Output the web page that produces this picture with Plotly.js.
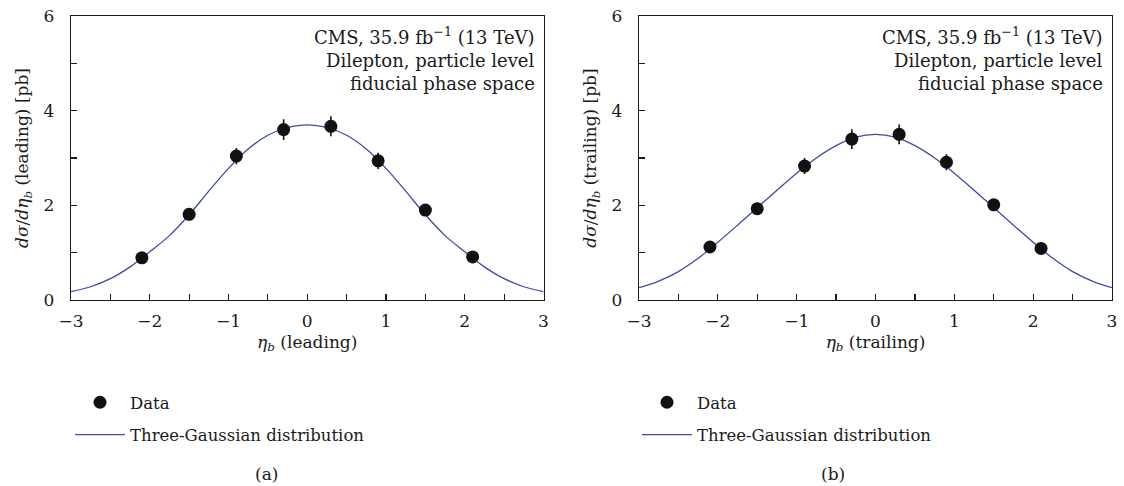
<!DOCTYPE html>
<html>
<head>
<meta charset="utf-8">
<script src="https://cdn.plot.ly/plotly-3.0.1.min.js"></script>
<style>
  html, body { margin: 0; padding: 0; background: #fff; }
  #chart { width: 1124px; height: 486px; }
</style>
</head>
<body>
<div id="chart"></div>
<script>
// b-jet pseudorapidity bins (bin centres)
const etaBins = [-2.1, -1.5, -0.9, -0.3, 0.3, 0.9, 1.5, 2.1];

// Measured differential cross sections [pb] and their uncertainties
const leadingXsec = [0.89, 1.81, 3.04, 3.60, 3.67, 2.94, 1.90, 0.91];
const leadingErr  = [0.07, 0.10, 0.17, 0.22, 0.21, 0.17, 0.10, 0.07];
const trailingXsec = [1.12, 1.93, 2.83, 3.40, 3.50, 2.91, 2.01, 1.09];
const trailingErr  = [0.07, 0.10, 0.17, 0.21, 0.21, 0.17, 0.10, 0.07];

// Three-Gaussian fit curves sampled along eta
const fitEta = [-3, -2.75, -2.5, -2.25, -2, -1.75, -1.5, -1.25, -1, -0.75, -0.5, -0.25, 0,
                0.25, 0.5, 0.75, 1, 1.25, 1.5, 1.75, 2, 2.25, 2.5, 2.75, 3];
const leadingFit = [0.175, 0.28, 0.45, 0.70, 1.02, 1.36, 1.80, 2.30, 2.78, 3.19, 3.48, 3.64, 3.70,
                    3.64, 3.48, 3.19, 2.78, 2.30, 1.80, 1.36, 1.02, 0.70, 0.45, 0.28, 0.175];
const trailingFit = [0.26, 0.40, 0.60, 0.88, 1.22, 1.58, 1.95, 2.32, 2.68, 3.00, 3.26, 3.44, 3.50,
                     3.44, 3.26, 3.00, 2.68, 2.32, 1.95, 1.58, 1.22, 0.88, 0.60, 0.40, 0.26];

const FONT = 'DejaVu Serif, Liberation Serif, serif';
const INK = '#1a1a1a';
const CURVE = '#3f4aa8';
const FS = 17;

function dataTrace(y, err, xa, ya, lg) {
  return {
    type: 'scatter', mode: 'markers', name: 'Data', legendrank: 1,
    x: etaBins, y: y, xaxis: xa, yaxis: ya, legend: lg, legendgroup: lg + 'd',
    marker: { color: '#111', size: 13 },
    error_y: { type: 'data', array: err, visible: true, color: '#111', thickness: 1.6, width: 0 }
  };
}
function fitTrace(y, xa, ya, lg) {
  return {
    type: 'scatter', mode: 'lines', name: 'Three-Gaussian distribution', legendrank: 2,
    x: fitEta, y: y, xaxis: xa, yaxis: ya, legend: lg, legendgroup: lg + 'f',
    line: { color: CURVE, width: 1.3, shape: 'spline', smoothing: 1 }
  };
}

// fit curves first so the data markers sit on top
const traces = [
  fitTrace(leadingFit, 'x', 'y', 'legend'),
  dataTrace(leadingXsec, leadingErr, 'x', 'y', 'legend'),
  fitTrace(trailingFit, 'x2', 'y2', 'legend2'),
  dataTrace(trailingXsec, trailingErr, 'x2', 'y2', 'legend2')
];

function xAxis(domain, label, anchor) {
  return {
    domain: domain, anchor: anchor, range: [-3, 3], dtick: 1, tick0: 0,
    showgrid: false, zeroline: false, showline: true, mirror: true,
    linecolor: INK, linewidth: 1.2,
    ticks: 'inside', ticklen: 6, tickwidth: 1.2, tickcolor: INK, ticklabelstandoff: 5,
    minor: { dtick: 0.5, ticks: 'inside', ticklen: 6, tickwidth: 1.2, tickcolor: INK, showgrid: false },
    tickfont: { family: FONT, size: FS, color: INK },
    title: { text: label, font: { family: FONT, size: FS, color: INK }, standoff: 6 }
  };
}
function yAxis(domain, label, anchor) {
  return {
    domain: domain, anchor: anchor, range: [0, 6], dtick: 2, tick0: 0,
    showgrid: false, zeroline: false, showline: true, mirror: true,
    linecolor: INK, linewidth: 1.2,
    ticks: 'inside', ticklen: 6, tickwidth: 1.2, tickcolor: INK, ticklabelstandoff: 12,
    minor: { dtick: 1, ticks: 'inside', ticklen: 6, tickwidth: 1.2, tickcolor: INK, showgrid: false },
    tickfont: { family: FONT, size: FS, color: INK },
    title: { text: label, font: { family: FONT, size: FS, color: INK }, standoff: 10 }
  };
}

const yDom = [1 - 300 / 486, 1 - 16 / 486];
const legendFont = { family: FONT, size: 16.5, color: INK };

function infoBox(xref, yref) {
  const lines = ['CMS, 35.9 fb<sup>−1</sup> (13 TeV)', 'Dilepton, particle level', 'fiducial phase space'];
  const ys = [0.930, 0.845, 0.764];
  return lines.map((t, i) => ({
    xref: xref + ' domain', yref: yref + ' domain', x: 0.986, y: ys[i],
    xanchor: 'right', yanchor: 'middle', showarrow: false, text: t,
    font: { family: FONT, size: 18, color: INK }
  }));
}

function legendBox(xPx) {
  return {
    x: xPx / 1124, y: 1 - 385 / 486, xanchor: 'left', yanchor: 'top',
    traceorder: 'grouped', tracegroupgap: 8, itemwidth: 50,
    font: legendFont, bgcolor: 'rgba(0,0,0,0)'
  };
}

function caption(xPx, label) {
  return {
    xref: 'paper', yref: 'paper', x: xPx / 1124, y: 1 - 474 / 486,
    xanchor: 'center', yanchor: 'middle', text: label, showarrow: false,
    font: { family: FONT, size: 17, color: INK }
  };
}

const layout = {
  width: 1124, height: 486,
  margin: { l: 0, r: 0, t: 0, b: 0 },
  paper_bgcolor: '#fff', plot_bgcolor: '#fff',
  font: { family: FONT, color: INK },
  xaxis: xAxis([71 / 1124, 543.5 / 1124], '<i>η<sub>b</sub></i> (leading)', 'y'),
  yaxis: yAxis(yDom, '<i>dσ</i>/<i>dη<sub>b</sub></i> (leading) [pb]', 'x'),
  xaxis2: xAxis([639 / 1124, 1112 / 1124], '<i>η<sub>b</sub></i> (trailing)', 'y2'),
  yaxis2: yAxis(yDom, '<i>dσ</i>/<i>dη<sub>b</sub></i> (trailing) [pb]', 'x2'),
  showlegend: true,
  legend: legendBox(70),
  legend2: legendBox(637),
  annotations: [
    ...infoBox('x', 'y'),
    ...infoBox('x2', 'y2'),
    caption(266, '(a)'),
    caption(833, '(b)')
  ]
};

Plotly.newPlot('chart', traces, layout, { displayModeBar: false, staticPlot: true });
</script>
</body>
</html>
